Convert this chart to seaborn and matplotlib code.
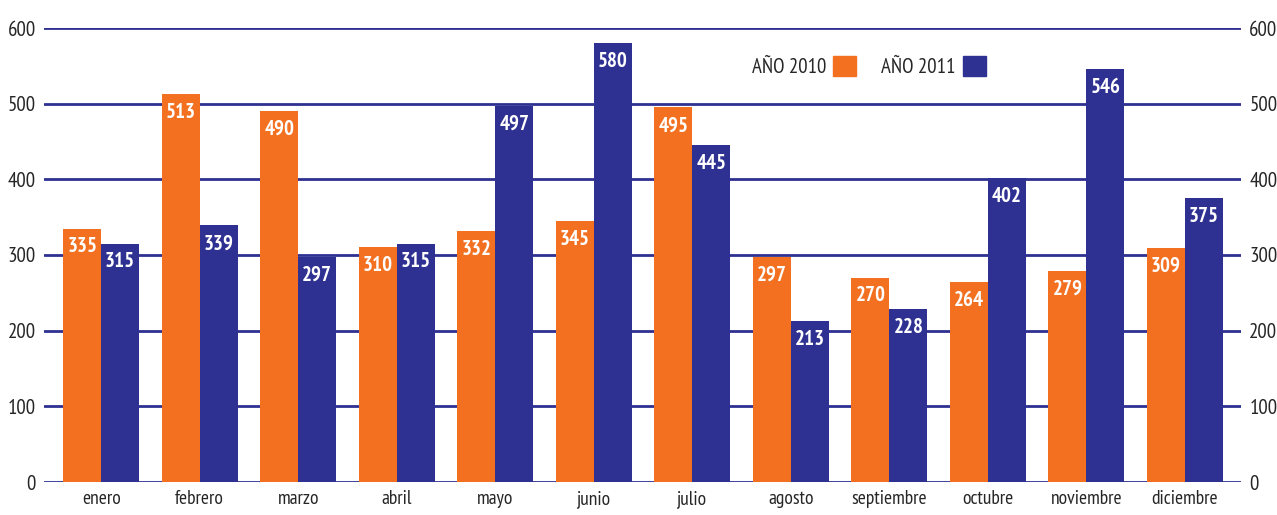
import pandas as pd
import seaborn as sns
import matplotlib.pyplot as plt
from matplotlib import font_manager
from matplotlib.patches import Patch

months = ['enero', 'febrero', 'marzo', 'abril', 'mayo', 'junio', 'julio',
          'agosto', 'septiembre', 'octubre', 'noviembre', 'diciembre']
values_2010 = [335, 513, 490, 310, 332, 345, 495, 297, 270, 264, 279, 309]
values_2011 = [315, 339, 297, 315, 497, 580, 445, 213, 228, 402, 546, 375]
series = ['AÑO 2010', 'AÑO 2011']
y_ticks = [0, 100, 200, 300, 400, 500, 600]

orange = '#F37021'
navy = '#2E3192'

df = pd.DataFrame({
    'mes': months * 2,
    'valor': values_2010 + values_2011,
    'serie': [series[0]] * len(months) + [series[1]] * len(months),
})

sns.set_style('white')
# condensed face close to the original's Myriad Condensed
names = {f.name for f in font_manager.fontManager.ttflist}
candidates = ['PT Sans Narrow', 'Roboto Condensed', 'Fira Sans Condensed',
              'Archivo Narrow', 'Open Sans Condensed', 'Liberation Sans Narrow']
family = next((c for c in candidates if c in names), 'DejaVu Sans')
plt.rcParams['font.family'] = [family, 'DejaVu Sans']

fig = plt.figure(figsize=(12.77, 5.15), dpi=100)
ax = fig.add_axes([44 / 1277, 33 / 515, 1197 / 1277, 454 / 515])

sns.barplot(data=df, x='mes', y='valor', hue='serie', palette=[orange, navy],
            width=0.77, saturation=1, linewidth=0, ax=ax, legend=False, zorder=2)

# white value labels at the top of each bar
for container in ax.containers:
    ax.bar_label(container, fmt='%d', padding=-20, color='white',
                 fontsize=15, fontweight='bold', zorder=3)

ax.set_ylim(0, 600)
ax.set_xlim(-0.58, 11.57)
ax.set_yticks(y_ticks)
for y in y_ticks:
    ax.axhline(y, color=navy, lw=2, zorder=1)
for s in ax.spines.values():
    s.set_visible(False)
ax.set_xlabel('')
ax.set_ylabel('')
ax.tick_params(axis='y', length=0, labelsize=15, pad=6, labelright=True)
ax.tick_params(axis='x', length=0, labelsize=14, pad=6)

handles = [Patch(color=orange), Patch(color=navy)]
ax.legend(handles, series, ncol=2, markerfirst=False, frameon=False,
          loc='center', bbox_to_anchor=(0.689, 0.915), fontsize=15,
          handlelength=1.1, handleheight=1.1, handletextpad=0.35,
          columnspacing=1.2)

fig.savefig('out.png', dpi=100)
